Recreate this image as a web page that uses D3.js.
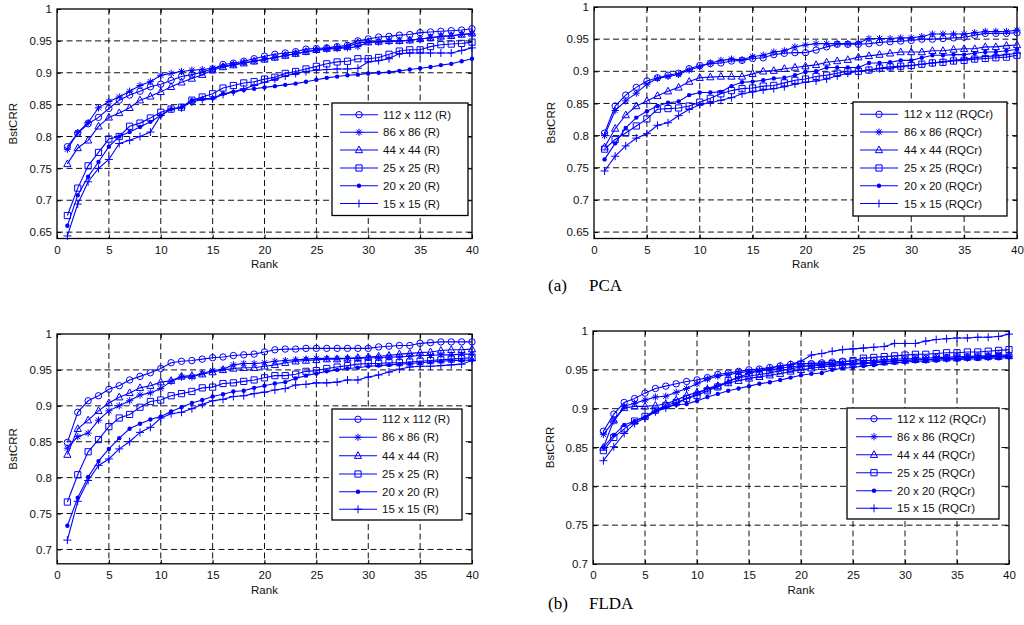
<!DOCTYPE html>
<html><head><meta charset="utf-8">
<script src="https://cdn.jsdelivr.net/npm/d3@7"></script>
<style>body{margin:0;background:#fff}svg{display:block}</style>
</head><body>
<svg id="c" width="1024" height="625"></svg>
<script>
const ranks = d3.range(1, 41);
const xTicks = [0,5,10,15,20,25,30,35,40];
const seriesSizes = ["112 x 112", "86 x 86", "44 x 44", "25 x 25", "20 x 20", "15 x 15"];
const markerKinds = ["circle", "asterisk", "triangle", "square", "dot", "plus"];

// (a) PCA, R
const pcaR_112 = [0.784,0.805,0.820,0.830,0.844,0.857,0.865,0.871,0.878,0.882,0.888,0.894,0.897,0.901,0.906,0.913,0.915,0.918,0.922,0.926,0.929,0.931,0.933,0.937,0.938,0.939,0.941,0.943,0.950,0.953,0.956,0.957,0.959,0.960,0.963,0.964,0.965,0.966,0.967,0.969];
const pcaR_86  = [0.780,0.806,0.822,0.845,0.855,0.862,0.871,0.880,0.886,0.896,0.899,0.902,0.904,0.905,0.907,0.910,0.913,0.916,0.918,0.921,0.924,0.927,0.930,0.933,0.935,0.937,0.938,0.939,0.941,0.948,0.948,0.949,0.950,0.951,0.953,0.955,0.957,0.958,0.960,0.961];
const pcaR_44  = [0.757,0.782,0.794,0.816,0.830,0.837,0.845,0.857,0.863,0.870,0.878,0.885,0.891,0.897,0.904,0.909,0.912,0.915,0.918,0.921,0.924,0.927,0.930,0.933,0.936,0.938,0.939,0.941,0.947,0.948,0.949,0.950,0.950,0.951,0.953,0.955,0.957,0.958,0.960,0.962];
const pcaR_25  = [0.676,0.719,0.754,0.775,0.796,0.800,0.816,0.821,0.829,0.838,0.843,0.846,0.857,0.862,0.867,0.876,0.880,0.884,0.886,0.890,0.893,0.899,0.902,0.906,0.910,0.914,0.917,0.918,0.922,0.922,0.924,0.929,0.934,0.936,0.936,0.941,0.944,0.945,0.946,0.948];
const pcaR_20  = [0.660,0.708,0.737,0.760,0.784,0.800,0.807,0.815,0.823,0.833,0.843,0.846,0.857,0.859,0.860,0.867,0.870,0.873,0.875,0.877,0.879,0.881,0.883,0.886,0.889,0.892,0.894,0.896,0.897,0.899,0.900,0.901,0.903,0.905,0.907,0.909,0.912,0.914,0.918,0.922];
const pcaR_15  = [0.644,0.694,0.729,0.750,0.764,0.789,0.794,0.800,0.807,0.833,0.843,0.845,0.854,0.858,0.859,0.866,0.870,0.875,0.880,0.885,0.890,0.895,0.899,0.902,0.904,0.905,0.906,0.906,0.907,0.917,0.919,0.922,0.930,0.931,0.931,0.931,0.931,0.931,0.935,0.939];

// (a) PCA, RQCr
const pcaQ_112 = [0.804,0.846,0.863,0.875,0.885,0.890,0.894,0.897,0.904,0.909,0.912,0.913,0.916,0.917,0.920,0.921,0.926,0.928,0.929,0.929,0.933,0.938,0.942,0.942,0.942,0.943,0.945,0.946,0.947,0.948,0.950,0.950,0.951,0.952,0.953,0.956,0.959,0.959,0.959,0.960];
const pcaQ_86  = [0.800,0.839,0.854,0.866,0.880,0.889,0.892,0.895,0.902,0.907,0.913,0.917,0.919,0.918,0.923,0.925,0.930,0.932,0.938,0.941,0.943,0.943,0.943,0.943,0.944,0.951,0.951,0.951,0.952,0.952,0.954,0.958,0.958,0.958,0.958,0.960,0.962,0.962,0.962,0.964];
const pcaQ_44  = [0.782,0.811,0.832,0.846,0.854,0.862,0.869,0.875,0.884,0.890,0.891,0.892,0.892,0.892,0.896,0.900,0.901,0.904,0.906,0.908,0.910,0.914,0.916,0.918,0.922,0.924,0.926,0.928,0.930,0.930,0.930,0.932,0.932,0.934,0.935,0.935,0.938,0.938,0.940,0.941];
const pcaQ_25  = [0.779,0.794,0.804,0.815,0.826,0.841,0.842,0.843,0.846,0.852,0.858,0.865,0.870,0.873,0.874,0.877,0.878,0.882,0.886,0.888,0.892,0.894,0.897,0.900,0.900,0.902,0.905,0.907,0.908,0.909,0.911,0.913,0.914,0.916,0.917,0.919,0.920,0.921,0.922,0.925];
const pcaQ_20  = [0.763,0.788,0.812,0.828,0.838,0.846,0.851,0.853,0.863,0.867,0.867,0.868,0.877,0.883,0.884,0.886,0.889,0.890,0.894,0.899,0.900,0.906,0.906,0.906,0.906,0.913,0.913,0.914,0.917,0.917,0.921,0.925,0.925,0.926,0.926,0.928,0.930,0.930,0.932,0.934];
const pcaQ_15  = [0.745,0.768,0.784,0.796,0.803,0.816,0.820,0.831,0.841,0.848,0.851,0.855,0.859,0.865,0.868,0.871,0.873,0.876,0.880,0.883,0.885,0.888,0.893,0.897,0.900,0.902,0.904,0.905,0.907,0.909,0.911,0.913,0.915,0.917,0.919,0.921,0.923,0.924,0.926,0.928];

// (b) FLDA, R
const fldaR_112 = [0.849,0.891,0.907,0.914,0.923,0.928,0.936,0.941,0.946,0.952,0.960,0.962,0.963,0.965,0.967,0.968,0.970,0.971,0.972,0.975,0.978,0.979,0.979,0.980,0.980,0.980,0.980,0.980,0.980,0.980,0.982,0.983,0.984,0.984,0.987,0.988,0.989,0.989,0.989,0.989];
const fldaR_86  = [0.841,0.857,0.862,0.880,0.893,0.900,0.907,0.915,0.918,0.924,0.934,0.940,0.940,0.945,0.949,0.951,0.957,0.959,0.959,0.960,0.962,0.963,0.964,0.965,0.966,0.966,0.966,0.966,0.966,0.967,0.967,0.968,0.968,0.969,0.970,0.970,0.971,0.971,0.972,0.972];
const fldaR_44  = [0.832,0.868,0.880,0.893,0.904,0.912,0.918,0.925,0.928,0.933,0.935,0.941,0.942,0.944,0.947,0.950,0.952,0.953,0.953,0.955,0.957,0.960,0.962,0.963,0.964,0.965,0.965,0.966,0.967,0.968,0.969,0.970,0.972,0.973,0.974,0.975,0.977,0.978,0.978,0.979];
const fldaR_25  = [0.766,0.804,0.836,0.853,0.871,0.883,0.888,0.898,0.906,0.908,0.914,0.917,0.920,0.925,0.926,0.931,0.932,0.934,0.936,0.939,0.942,0.942,0.944,0.948,0.949,0.952,0.954,0.956,0.958,0.959,0.959,0.960,0.960,0.961,0.962,0.963,0.964,0.965,0.966,0.967];
const fldaR_20  = [0.733,0.772,0.801,0.823,0.840,0.855,0.868,0.875,0.881,0.885,0.892,0.898,0.904,0.908,0.913,0.916,0.920,0.921,0.925,0.928,0.931,0.933,0.938,0.942,0.945,0.948,0.950,0.952,0.953,0.955,0.956,0.957,0.958,0.959,0.960,0.961,0.962,0.963,0.963,0.964];
const fldaR_15  = [0.713,0.767,0.796,0.817,0.826,0.840,0.850,0.863,0.870,0.883,0.889,0.891,0.896,0.902,0.907,0.909,0.913,0.914,0.917,0.919,0.922,0.924,0.929,0.930,0.932,0.932,0.933,0.936,0.936,0.940,0.943,0.947,0.951,0.954,0.955,0.955,0.956,0.957,0.958,0.963];

// (b) FLDA, RQCr
const fldaQ_112 = [0.871,0.893,0.908,0.913,0.920,0.926,0.929,0.932,0.935,0.937,0.940,0.944,0.946,0.948,0.950,0.951,0.953,0.955,0.957,0.958,0.958,0.959,0.960,0.961,0.961,0.962,0.962,0.963,0.964,0.964,0.965,0.965,0.966,0.966,0.967,0.967,0.968,0.968,0.969,0.969];
const fldaQ_86  = [0.867,0.884,0.903,0.907,0.911,0.915,0.916,0.921,0.926,0.932,0.938,0.942,0.944,0.946,0.948,0.949,0.950,0.952,0.954,0.955,0.955,0.956,0.957,0.958,0.958,0.959,0.960,0.961,0.962,0.962,0.963,0.963,0.964,0.964,0.965,0.965,0.966,0.966,0.967,0.967];
const fldaQ_44  = [0.850,0.885,0.901,0.903,0.903,0.904,0.906,0.911,0.917,0.921,0.925,0.929,0.933,0.936,0.939,0.941,0.943,0.945,0.948,0.950,0.952,0.954,0.955,0.956,0.957,0.958,0.959,0.960,0.961,0.962,0.963,0.963,0.964,0.965,0.965,0.966,0.966,0.967,0.967,0.968];
const fldaQ_25  = [0.846,0.863,0.874,0.884,0.890,0.898,0.904,0.908,0.913,0.917,0.923,0.928,0.936,0.940,0.942,0.944,0.946,0.949,0.951,0.954,0.956,0.957,0.958,0.960,0.962,0.965,0.966,0.967,0.968,0.969,0.970,0.970,0.971,0.972,0.972,0.973,0.973,0.974,0.975,0.976];
const fldaQ_20  = [0.850,0.866,0.879,0.884,0.889,0.897,0.902,0.905,0.906,0.910,0.915,0.919,0.923,0.926,0.929,0.932,0.934,0.937,0.940,0.943,0.945,0.946,0.950,0.952,0.953,0.955,0.956,0.958,0.959,0.960,0.961,0.961,0.962,0.963,0.963,0.964,0.964,0.965,0.965,0.966];
const fldaQ_15  = [0.833,0.851,0.868,0.881,0.888,0.896,0.901,0.906,0.913,0.919,0.926,0.930,0.934,0.941,0.945,0.949,0.952,0.955,0.957,0.961,0.969,0.971,0.974,0.976,0.977,0.978,0.979,0.980,0.984,0.984,0.984,0.987,0.989,0.990,0.991,0.991,0.992,0.992,0.993,0.996];

const yTicksA = [0.65,0.7,0.75,0.8,0.85,0.9,0.95,1];
const yTicksB = [0.7,0.75,0.8,0.85,0.9,0.95,1];

const panels = [
  {box:[57,9,472,238.5], ydom:[0.64,1], yt:yTicksA, suffix:"(R)",
   series:[pcaR_112,pcaR_86,pcaR_44,pcaR_25,pcaR_20,pcaR_15],
   leg:{x0:332,y0:103,x1:468,y1:215.5,l0:340,l1:378,tx:383,rows:[114.7,132.3,150,168,185.8,203.5]}, ylab:13, xlab:268},
  {box:[594,7,1017,238.5], ydom:[0.64,1], yt:yTicksA, suffix:"(RQCr)",
   series:[pcaQ_112,pcaQ_86,pcaQ_44,pcaQ_25,pcaQ_20,pcaQ_15],
   leg:{x0:853,y0:102,x1:1007,y1:216,l0:860,l1:898,tx:904,rows:[114.3,132,150,168,185.8,203.5]}, ylab:551, xlab:268},
  {box:[57,334,472,563.8], ydom:[0.68,1], yt:yTicksB, suffix:"(R)",
   series:[fldaR_112,fldaR_86,fldaR_44,fldaR_25,fldaR_20,fldaR_15],
   leg:{x0:332,y0:409,x1:462,y1:520,l0:339,l1:377,tx:382,rows:[419.3,437.3,455.7,474,491.7,509.3]}, ylab:13, xlab:594},
  {box:[593,331,1009,564], ydom:[0.7,1], yt:yTicksB, suffix:"(RQCr)",
   series:[fldaQ_112,fldaQ_86,fldaQ_44,fldaQ_25,fldaQ_20,fldaQ_15],
   leg:{x0:847,y0:408,x1:999,y1:519,l0:856,l1:892,tx:897,rows:[418.7,436.7,454.7,472.7,490.7,508.3]}, ylab:550, xlab:594}
];

const BLUE = "#0000ff";
const FONT = "Liberation Sans, Arial, sans-serif";
const svg = d3.select("#c");

function markerPath(kind){
  const s = 3.6;
  switch(kind){
    case "asterisk": { const d = s*0.72; return `M${-s},0L${s},0M0,${-s}L0,${s}M${-d},${-d}L${d},${d}M${-d},${d}L${d},${-d}`; }
    case "triangle": return `M0,${-s-0.4}L${s},${s*0.75}L${-s},${s*0.75}Z`;
    case "square": return `M-3.1,-3.1H3.1V3.1H-3.1Z`;
    case "plus": return `M${-s-0.4},0L${s+0.4},0M0,${-s-0.4}L0,${s+0.4}`;
    default: return null;
  }
}
function drawMarker(g, kind, x, y){
  if (kind === "circle") {
    g.append("circle").attr("cx",x).attr("cy",y).attr("r",3.2).attr("fill","none").attr("stroke",BLUE).attr("stroke-width",1);
  } else if (kind === "dot") {
    g.append("circle").attr("cx",x).attr("cy",y).attr("r",2.2).attr("fill",BLUE);
  } else {
    g.append("path").attr("transform",`translate(${x},${y})`).attr("d",markerPath(kind)).attr("fill","none").attr("stroke",BLUE).attr("stroke-width",1);
  }
}
const fmt = v => String(+v.toFixed(2));

panels.forEach(p => {
  const [L,T,R,B] = p.box;
  const x = d3.scaleLinear().domain([0,40]).range([L,R]);
  const y = d3.scaleLinear().domain(p.ydom).range([B,T]);
  const g = svg.append("g");
  g.append("rect").attr("x",L).attr("y",T).attr("width",R-L).attr("height",B-T).attr("fill","#fff");
  // grid
  const grid = g.append("g").attr("stroke","#111").attr("stroke-width",1).attr("stroke-dasharray","6,3.5");
  xTicks.forEach(t => { if (t>0 && t<40) grid.append("line").attr("x1",x(t)).attr("x2",x(t)).attr("y1",T).attr("y2",B); });
  p.yt.forEach(t => { if (y(t)>T+1 && y(t)<B-1) grid.append("line").attr("x1",L).attr("x2",R).attr("y1",y(t)).attr("y2",y(t)); });
  // axes via d3
  const ax = g.append("g").attr("transform",`translate(0,${B})`).call(d3.axisBottom(x).tickValues(xTicks).tickSize(-4).tickPadding(7).tickFormat(d3.format("d")));
  const ay = g.append("g").attr("transform",`translate(${L},0)`).call(d3.axisLeft(y).tickValues(p.yt).tickSize(-4).tickPadding(5).tickFormat(fmt));
  g.append("g").attr("transform",`translate(0,${T})`).call(d3.axisTop(x).tickValues(xTicks).tickSize(-4).tickFormat(""));
  g.append("g").attr("transform",`translate(${R},0)`).call(d3.axisRight(y).tickValues(p.yt).tickSize(-4).tickFormat(""));
  g.selectAll(".domain").remove();
  g.selectAll(".tick line").attr("stroke","#000");
  [ax,ay].forEach(a => a.selectAll("text").attr("font-family",FONT).attr("font-size",11.5).attr("fill","#111"));
  // frame
  g.append("rect").attr("x",L).attr("y",T).attr("width",R-L).attr("height",B-T).attr("fill","none").attr("stroke","#000").attr("stroke-width",1.3);
  // series
  const line = d3.line().x((d,i)=>x(ranks[i])).y(d=>y(d));
  p.series.forEach((s,k) => {
    g.append("path").attr("d",line(s)).attr("fill","none").attr("stroke",BLUE).attr("stroke-width",1.1);
    const mg = g.append("g");
    s.forEach((v,i) => drawMarker(mg, markerKinds[k], x(ranks[i]), y(v)));
  });
  // labels
  g.append("text").attr("x",(L+R)/2).attr("y",p.xlab).attr("text-anchor","middle").attr("font-family",FONT).attr("font-size",11.5).attr("fill","#111").text("Rank");
  g.append("text").attr("transform",`translate(${p.ylab},${(T+B)/2}) rotate(-90)`).attr("text-anchor","middle").attr("dominant-baseline","central").attr("font-family",FONT).attr("font-size",11.5).attr("fill","#111").text("BstCRR");
  // legend
  const lg = p.leg;
  g.append("rect").attr("x",lg.x0).attr("y",lg.y0).attr("width",lg.x1-lg.x0).attr("height",lg.y1-lg.y0).attr("fill","#fff").attr("stroke","#000").attr("stroke-width",1.3);
  seriesSizes.forEach((name,k) => {
    const ry = lg.rows[k];
    g.append("line").attr("x1",lg.l0).attr("x2",lg.l1).attr("y1",ry).attr("y2",ry).attr("stroke",BLUE).attr("stroke-width",1.1);
    drawMarker(g, markerKinds[k], (lg.l0+lg.l1)/2, ry);
    g.append("text").attr("x",lg.tx).attr("y",ry).attr("dominant-baseline","central").attr("font-family",FONT).attr("font-size",11.5).attr("fill","#111").text(name + " " + p.suffix);
  });
});

// captions
const captions = [{t:"(a)", n:"PCA", y:291}, {t:"(b)", n:"FLDA", y:609}];
captions.forEach(c => {
  svg.append("text").attr("x",548).attr("y",c.y).attr("font-family","Liberation Serif, Times New Roman, serif").attr("font-size",17).attr("fill","#000").text(c.t);
  svg.append("text").attr("x",589).attr("y",c.y).attr("font-family","Liberation Serif, Times New Roman, serif").attr("font-size",17).attr("fill","#000").text(c.n);
});
</script>
</body></html>
